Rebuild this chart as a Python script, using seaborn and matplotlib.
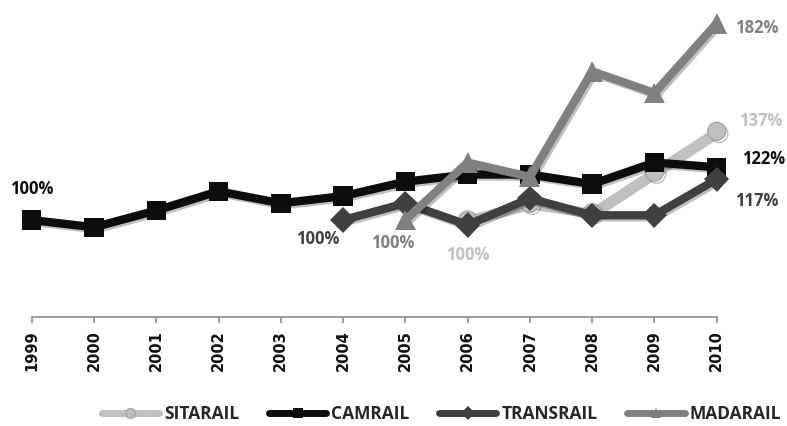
import pandas as pd
import matplotlib
matplotlib.use('Agg')
import matplotlib.pyplot as plt
import matplotlib.patheffects as pe
import seaborn as sns

# Index values (first year of each series = 100%)
years = list(range(1999, 2011))
camrail = [100, 97, 104, 112, 107, 110, 116, 119, 119, 115, 124, 122]
transrail_years = [2004, 2005, 2006, 2007, 2008, 2009, 2010]
transrail = [100, 107, 98, 109, 102, 102, 117]
madarail_years = [2005, 2006, 2007, 2008, 2009, 2010]
madarail = [100, 124, 118, 162, 153, 182]
sitarail_years = [2006, 2007, 2008, 2009, 2010]
sitarail = [100, 107, 103, 120, 137]

series_names = ['SITARAIL', 'CAMRAIL', 'TRANSRAIL', 'MADARAIL']
colors = {'SITARAIL': '#c0c0c0', 'CAMRAIL': '#0d0d0d',
          'TRANSRAIL': '#404040', 'MADARAIL': '#808080'}
markers = {'SITARAIL': 'o', 'CAMRAIL': 's', 'TRANSRAIL': 'D', 'MADARAIL': '^'}
msizes = {'SITARAIL': 13, 'CAMRAIL': 14, 'TRANSRAIL': 13, 'MADARAIL': 15}

df = pd.concat([
    pd.DataFrame({'Year': sitarail_years, 'Index': sitarail, 'Company': 'SITARAIL'}),
    pd.DataFrame({'Year': years, 'Index': camrail, 'Company': 'CAMRAIL'}),
    pd.DataFrame({'Year': transrail_years, 'Index': transrail, 'Company': 'TRANSRAIL'}),
    pd.DataFrame({'Year': madarail_years, 'Index': madarail, 'Company': 'MADARAIL'}),
])

sns.set_style("white")
plt.rcParams['font.family'] = ['Open Sans', 'DejaVu Sans']

fig = plt.figure(figsize=(7.87, 4.26), dpi=100)
ax = fig.add_axes([0.0403, 0.2559, 0.8704, 0.7321])

shadow = [pe.SimpleLineShadow(offset=(1.5, -1.5), alpha=0.25, shadow_color='black'), pe.Normal()]

for name in series_names:
    sub = df[df['Company'] == name]
    edge = '#a8a8a8' if name == 'SITARAIL' else colors[name]
    sns.lineplot(data=sub, x='Year', y='Index', ax=ax, color=colors[name],
                 marker=markers[name], markersize=msizes[name], linewidth=6,
                 markeredgecolor=edge, markeredgewidth=1 if name == 'SITARAIL' else 0,
                 label=name, clip_on=False, path_effects=shadow)

ax.set_xlim(1999, 2010)
ax.set_ylim(59.6, 189.6)
ax.set_xticks(years)
ax.set_xticklabels([str(y) for y in years])
ax.set_yticks([])
ax.set_xlabel('')
ax.set_ylabel('')
for s in ['top', 'right', 'left']:
    ax.spines[s].set_visible(False)
ax.spines['bottom'].set_color('#8c8c8c')
ax.spines['bottom'].set_linewidth(1.2)
ax.tick_params(axis='x', bottom=True, length=4.5, width=1.2, color='#8c8c8c', pad=5)
for lbl in ax.get_xticklabels():
    lbl.set_rotation(90)
    lbl.set_fontfamily('DejaVu Sans')
    lbl.set_fontweight('heavy')
    lbl.set_fontsize(10.5)
    lbl.set_color('#111111')

# value labels
labels = [
    (1999.0, 112.9, '100%', colors['CAMRAIL']),
    (2003.6, 92.1, '100%', colors['TRANSRAIL']),
    (2004.8, 90.4, '100%', colors['MADARAIL']),
    (2006.0, 85.4, '100%', colors['SITARAIL']),
    (2010.65, 180.2, '182%', colors['MADARAIL']),
    (2010.7, 141.3, '137%', colors['SITARAIL']),
    (2010.75, 125.4, '122%', colors['CAMRAIL']),
    (2010.65, 107.9, '117%', colors['TRANSRAIL']),
]
for x, y, t, c in labels:
    ax.text(x, y, t, color=c, fontsize=12, fontweight='bold',
            ha='center', va='center', clip_on=False)

ax.get_legend().remove()
handles, names = ax.get_legend_handles_labels()
leg = fig.legend(handles, names, loc='center', bbox_to_anchor=(0.561, 0.027),
                 ncol=4, frameon=False, handlelength=3.3, handletextpad=0.3,
                 columnspacing=1.7, prop={'weight': 'bold', 'size': 12.5})
for h in leg.legend_handles:
    h.set_markersize(7)
    h.set_linewidth(5)
    h.set_path_effects([])

fig.savefig('out.png', dpi=100)
